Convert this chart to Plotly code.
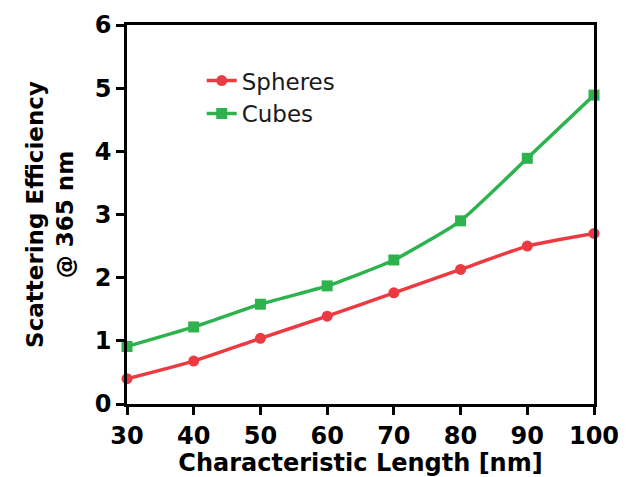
import plotly.graph_objects as go

lengths = [30, 40, 50, 60, 70, 80, 90, 100]
spheres = [0.40, 0.68, 1.04, 1.39, 1.76, 2.13, 2.50, 2.70]
cubes = [0.91, 1.22, 1.58, 1.87, 2.28, 2.90, 3.89, 4.89]

red = "#EC3A43"
green = "#2DB24E"

fig = go.Figure()
fig.add_trace(go.Scatter(x=lengths, y=spheres, name="Spheres", mode="lines+markers",
                         line=dict(color=red, width=3.5, shape="spline", smoothing=0.5),
                         marker=dict(symbol="circle", size=11, color=red)))
fig.add_trace(go.Scatter(x=lengths, y=cubes, name="Cubes", mode="lines+markers",
                         line=dict(color=green, width=3.5, shape="spline", smoothing=0.5),
                         marker=dict(symbol="square", size=11, color=green)))

axis_common = dict(showline=True, linecolor="black", linewidth=2.5, mirror=True,
                   ticks="outside", ticklen=8, tickwidth=2.5, tickcolor="black",
                   showgrid=False, zeroline=False, automargin=False,
                   tickfont=dict(family="DejaVu Sans", size=24, color="black", weight="bold"))

fig.update_layout(
    width=631, height=477,
    margin=dict(l=127, r=37, t=25, b=73),
    plot_bgcolor="white", paper_bgcolor="white",
    showlegend=True,
    legend=dict(x=0.16, y=0.91, xanchor="left", yanchor="top",
                bgcolor="rgba(0,0,0,0)", tracegroupgap=0,
                font=dict(family="DejaVu Sans", size=23, color="#1a1a1a")),
    xaxis=dict(range=[30, 100], tickvals=lengths,
               title=dict(text="Characteristic Length [nm]",
                          font=dict(family="DejaVu Sans", size=24, color="black", weight="bold")),
               **axis_common),
    yaxis=dict(range=[0, 6], tickvals=[0, 1, 2, 3, 4, 5, 6],
               title=dict(text="Scattering Efficiency<br>@ 365 nm",
                          font=dict(family="DejaVu Sans", size=23, color="black", weight="bold")),
               **axis_common),
)
fig.update_traces(cliponaxis=False)

fig.write_html("out.html")
